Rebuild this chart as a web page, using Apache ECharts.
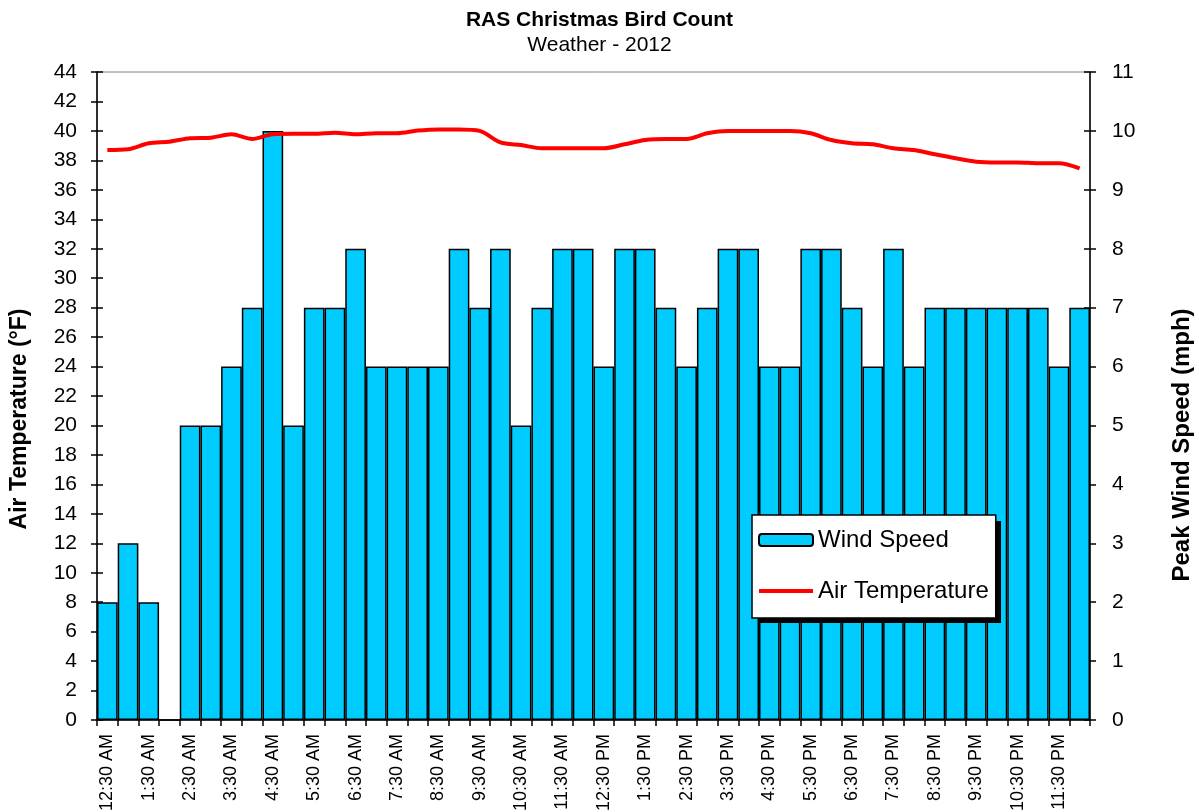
<!DOCTYPE html>
<html>
<head>
<meta charset="utf-8">
<script src="https://cdn.jsdelivr.net/npm/echarts@6/dist/echarts.min.js"></script>
<style>html,body{margin:0;padding:0;background:#fff;}#c{width:1199px;height:812px;}</style>
</head>
<body>
<div id="c"></div>
<script>
const times = ['12:30 AM','1:00 AM','1:30 AM','2:00 AM','2:30 AM','3:00 AM','3:30 AM','4:00 AM','4:30 AM','5:00 AM','5:30 AM','6:00 AM',
  '6:30 AM','7:00 AM','7:30 AM','8:00 AM','8:30 AM','9:00 AM','9:30 AM','10:00 AM','10:30 AM','11:00 AM','11:30 AM','12:00 PM',
  '12:30 PM','1:00 PM','1:30 PM','2:00 PM','2:30 PM','3:00 PM','3:30 PM','4:00 PM','4:30 PM','5:00 PM','5:30 PM','6:00 PM',
  '6:30 PM','7:00 PM','7:30 PM','8:00 PM','8:30 PM','9:00 PM','9:30 PM','10:00 PM','10:30 PM','11:00 PM','11:30 PM','12:00 AM'];
const windSpeed = [2,3,2,0,5,5,6,7,10,5,7,7,8,6,6,6,6,8,7,8,5,7,8,8,6,8,8,7,6,7,8,8,6,6,8,8,7,6,8,6,7,7,7,7,7,7,6,7];
const airTemp = [38.7,38.75,39.16,39.27,39.5,39.54,39.77,39.45,39.77,39.8,39.8,39.88,39.77,39.84,39.84,40.02,40.1,40.1,40.0,39.22,39.04,38.82,38.82,38.82,
  38.82,39.09,39.38,39.45,39.45,39.84,40.0,40.0,40.0,40.0,39.84,39.38,39.16,39.09,38.82,38.7,38.41,38.14,37.91,37.86,37.86,37.8,37.8,37.46];

const FONT = "'Liberation Sans', Arial, sans-serif";
const chart = echarts.init(document.getElementById('c'));
const tempAxisBase = {type:'value', min:0, max:44, interval:2};
const windAxisBase = {type:'value', min:0, max:11, interval:1};
chart.setOption({
  animation:false,
  backgroundColor:'#fff',
  textStyle:{fontFamily:FONT, color:'#000'},
  title:{
    text:'RAS Christmas Bird Count',
    subtext:'Weather - 2012',
    left:'center', top:5, itemGap:4,
    textStyle:{fontFamily:FONT, fontSize:21, fontWeight:'bold', color:'#000'},
    subtextStyle:{fontFamily:FONT, fontSize:21, color:'#000'}
  },
  grid:{left:97, right:109, top:72, bottom:92, containLabel:false, outerBoundsMode:'none',
    show:true, borderColor:'#808080', borderWidth:1, backgroundColor:'transparent'},
  graphic:[
    {type:'rect', left:758, top:521, shape:{width:243, height:102}, style:{fill:'#000'}, z:5}
  ],
  legend:{
    orient:'vertical', left:752, top:515, z:6,
    backgroundColor:'#fff', borderColor:'#000', borderWidth:1.5,
    padding:[13,7,15,6], itemGap:27, itemWidth:54, itemHeight:12,
    textStyle:{fontFamily:FONT, fontSize:24, color:'#000'},
    data:[
      {name:'Wind Speed'},
      {name:'Air Temperature', icon:'path://M0,0H54V4H0Z', itemStyle:{color:'#FF0000', borderWidth:0}}
    ]
  },
  xAxis:{
    type:'category', data:times, boundaryGap:true,
    axisLine:{lineStyle:{color:'#000', width:1.5}},
    axisTick:{show:true, interval:0, length:6, lineStyle:{color:'#000', width:1.5}},
    axisLabel:{interval:1, rotate:90, fontSize:18, margin:14, color:'#000', fontFamily:FONT},
    splitLine:{show:false}
  },
  yAxis:[
    Object.assign({}, tempAxisBase, {
      position:'left', name:'Air Temperature (°F)', nameLocation:'middle', nameGap:66, nameRotate:90,
      nameTextStyle:{fontFamily:FONT, fontSize:23, fontWeight:'bold', color:'#000', padding:[0,46,0,0]},
      axisLine:{show:true, lineStyle:{color:'#000', width:1.5}},
      axisTick:{show:true, length:6, lineStyle:{color:'#000', width:1.5}},
      axisLabel:{fontSize:21, margin:20, color:'#000', fontFamily:FONT},
      splitLine:{show:false}
    }),
    Object.assign({}, windAxisBase, {
      position:'right', name:'Peak Wind Speed (mph)', nameLocation:'middle', nameGap:80, nameRotate:90,
      nameTextStyle:{fontFamily:FONT, fontSize:24, fontWeight:'bold', color:'#000', padding:[0,98,0,0]},
      axisLine:{show:true, lineStyle:{color:'#000', width:1.5}},
      axisTick:{show:true, length:6, lineStyle:{color:'#000', width:1.5}},
      axisLabel:{fontSize:21, margin:22, color:'#000', fontFamily:FONT},
      splitLine:{show:false}
    }),
    Object.assign({}, tempAxisBase, {
      position:'left', axisLine:{show:false},
      axisTick:{show:true, inside:true, length:6, lineStyle:{color:'#000', width:1.5}},
      axisLabel:{show:false}, splitLine:{show:false}
    }),
    Object.assign({}, windAxisBase, {
      position:'right', axisLine:{show:false},
      axisTick:{show:true, inside:true, length:6, lineStyle:{color:'#000', width:1.5}},
      axisLabel:{show:false}, splitLine:{show:false}
    })
  ],
  series:[
    {
      name:'Wind Speed', type:'bar', yAxisIndex:1, data:windSpeed,
      barCategoryGap:'0%', barWidth:'100%',
      itemStyle:{color:'#00CCFF', borderColor:'#000', borderWidth:1.5},
      z:2
    },
    {
      name:'Air Temperature', type:'line', yAxisIndex:0, data:airTemp,
      symbol:'none', smooth:0.3,
      lineStyle:{color:'#FF0000', width:4},
      itemStyle:{color:'#FF0000'},
      z:3
    }
  ]
});
</script>
</body>
</html>
